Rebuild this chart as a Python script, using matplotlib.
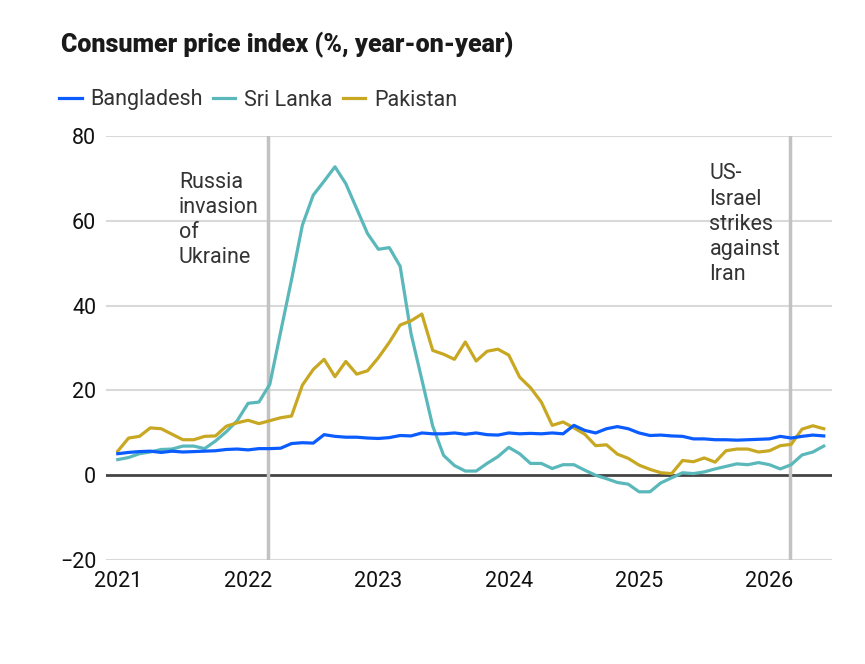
import matplotlib.pyplot as plt
import numpy as np

plt.rcParams['font.family'] = ['Roboto', 'DejaVu Sans']

# monthly CPI, Jan 2021 .. Jun 2026
bangladesh = [5.0, 5.3, 5.5, 5.6, 5.3, 5.6, 5.4, 5.5, 5.6, 5.7, 6.0, 6.1,
              5.9, 6.2, 6.2, 6.3, 7.4, 7.6, 7.5, 9.5, 9.1, 8.9, 8.9, 8.7,
              8.6, 8.8, 9.3, 9.2, 9.9, 9.7, 9.7, 9.9, 9.6, 9.9, 9.5, 9.4,
              9.9, 9.7, 9.8, 9.7, 9.9, 9.7, 11.7, 10.5, 9.9, 10.9, 11.4, 10.9,
              9.9, 9.3, 9.4, 9.2, 9.1, 8.5, 8.5, 8.3, 8.3, 8.2, 8.3, 8.4,
              8.5, 9.1, 8.7, 9.1, 9.4, 9.2]
sri_lanka = [3.6, 4.1, 5.0, 5.4, 6.0, 6.1, 6.8, 6.8, 6.2, 8.0, 10.2, 12.8,
             16.9, 17.2, 21.4, 33.8, 46.1, 59.0, 66.1, 69.4, 72.8, 68.8, 62.9, 57.0,
             53.3, 53.7, 49.3, 33.4, 22.5, 11.5, 4.6, 2.2, 0.9, 0.9, 2.7, 4.3,
             6.5, 5.0, 2.7, 2.7, 1.5, 2.4, 2.4, 1.1, -0.1, -0.9, -1.8, -2.2,
             -4.0, -4.0, -1.9, -0.7, 0.5, 0.3, 0.7, 1.4, 2.0, 2.6, 2.4, 2.9,
             2.4, 1.4, 2.4, 4.7, 5.4, 6.8]
pakistan = [5.6, 8.7, 9.1, 11.1, 10.9, 9.6, 8.3, 8.3, 9.1, 9.2, 11.5, 12.3,
            12.9, 12.1, 12.8, 13.5, 13.9, 21.2, 24.9, 27.3, 23.2, 26.8, 23.8, 24.6,
            27.7, 31.3, 35.4, 36.4, 38.0, 29.4, 28.5, 27.3, 31.4, 26.9, 29.2, 29.7,
            28.3, 23.1, 20.6, 17.2, 11.7, 12.5, 11.1, 9.6, 6.9, 7.1, 4.9, 3.9,
            2.3, 1.3, 0.5, 0.3, 3.4, 3.1, 4.0, 3.0, 5.7, 6.1, 6.1, 5.4,
            5.7, 6.9, 7.2, 10.8, 11.6, 10.9]
months = 2021 + np.arange(len(bangladesh)) / 12

events = [2022.15, 2026.16]
event_labels = ['Russia\ninvasion\nof\nUkraine', 'US-\nIsrael\nstrikes\nagainst\nIran']
event_text_x = [2021.47, 2025.54]
event_text_y = [71.6, 73.6]

fig = plt.figure(figsize=(8.65, 6.64), dpi=100)
ax = fig.add_axes([106/865, 1 - 559.5/664, (832-106)/865, (559.5-136.3)/664])

for v in [-20, 20, 40, 60, 80]:
    ax.axhline(v, color='#d9d9d9', lw=1.5, zorder=0)
ax.axhline(0, color='#444444', lw=2, zorder=1)
for e in events:
    ax.axvline(e, color='#c2c2c2', lw=2.5, zorder=1)

ax.plot(months, bangladesh, color='#0b5cff', lw=2.3, label='Bangladesh', zorder=4)
ax.plot(months, sri_lanka, color='#5ab8bb', lw=2.3, label='Sri Lanka', zorder=3)
ax.plot(months, pakistan, color='#c8a823', lw=2.3, label='Pakistan', zorder=3)

for tx, ty, lab in zip(event_text_x, event_text_y, event_labels):
    ax.text(tx, ty, lab, ha='left', va='top', fontsize=15.5, color='#333333',
            linespacing=1.26)

ax.set_xlim(2020.91, 2026.48)
ax.set_ylim(-20, 80)
ax.set_yticks([-20, 0, 20, 40, 60, 80])
ax.set_yticklabels(['\u221220', '0', '20', '40', '60', '80'])
ax.set_xticks(range(2021, 2027))
ax.tick_params(length=0, labelsize=15.5, colors='#111111')
ax.tick_params(axis='y', pad=7)
ax.tick_params(axis='x', pad=8)
for s in ax.spines.values():
    s.set_visible(False)

fig.text(61/865, 1 - 45/664, 'Consumer price index (%, year-on-year)',
         fontsize=18, fontweight='heavy', color='#1a1a1a', va='center')
fig.legend(loc='center left', bbox_to_anchor=(59/865, 1 - 100/664), ncol=3,
           frameon=False, fontsize=15.5, handlelength=1.05, handletextpad=0.42,
           columnspacing=0.45, borderpad=0, borderaxespad=0, labelcolor='#333333')

fig.savefig('out.png', dpi=100)
